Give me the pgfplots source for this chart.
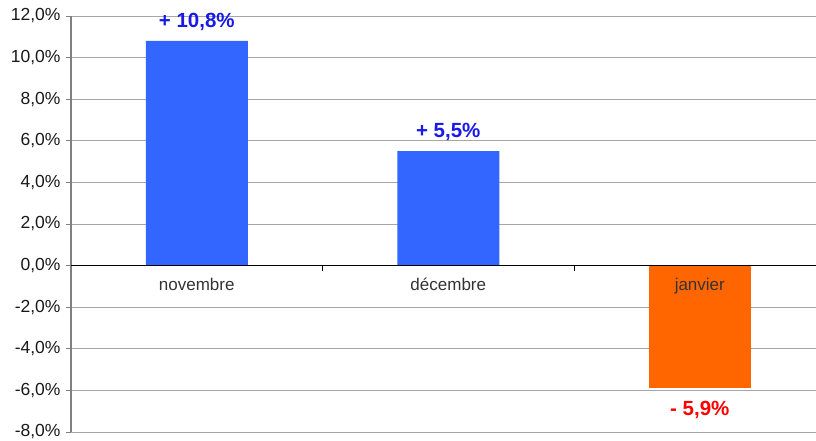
\documentclass[border=0pt]{standalone}
\usepackage{pgfplots}
\pgfplotsset{compat=1.18}
\usepackage{fontspec}
\setmainfont{Liberation Sans}
\definecolor{barblue}{HTML}{3366FF}
\definecolor{barorange}{HTML}{FF6600}
\definecolor{lblblue}{HTML}{1A1AE6}
\definecolor{lblred}{HTML}{FF0000}
\definecolor{gridgray}{HTML}{A6A6A6}
\definecolor{axgray}{HTML}{808080}
\pgfplotsset{
  common/.style={
    at={(0,0)}, anchor=south west,
    scale only axis, width=745pt, height=416pt,
    xmin=-0.5, xmax=2.462,
    ymin=-8, ymax=12,
    clip=false,
  }
}
\begin{document}
\begin{tikzpicture}[x=1pt,y=1pt]
\useasboundingbox (-71,-8) rectangle (745,432);
\begin{axis}[
  common,
  axis x line=none, axis y line=left,
  axis line style={-},
  y axis line style={axgray, line width=1.6pt},
  ytick={-8,-6,...,12},
  yticklabels={{-8,0\%},{-6,0\%},{-4,0\%},{-2,0\%},{0,0\%},{2,0\%},{4,0\%},{6,0\%},{8,0\%},{10,0\%},{12,0\%}},
  ymajorgrids,
  major grid style={gridgray, line width=0.9pt},
  ytick style={axgray, line width=0.9pt},
  tick align=outside,
  major tick length=5pt,
  yticklabel style={font=\fontsize{17.5}{20}\selectfont, text=black!90, xshift=-2pt},
  ybar, bar width=102pt,
  point meta=explicit symbolic,
]
\addplot[fill=barblue, draw=none, bar shift=0pt,
  nodes near coords, every node near coord/.append style={font=\fontsize{20.5}{23}\bfseries, text=lblblue, anchor=south, yshift=7pt}]
  coordinates {(0,10.8) [{+ 10,8\%}] (1,5.5) [{+ 5,5\%}]};
\addplot[fill=barorange, draw=none, bar shift=0pt,
  nodes near coords, every node near coord/.append style={font=\fontsize{20.5}{23}\bfseries, text=lblred, anchor=north, yshift=-9pt}]
  coordinates {(2,-5.9) [{- 5,9\%}]};
\end{axis}
\begin{axis}[
  common,
  axis x line=middle, axis y line=none,
  axis line style={-},
  x axis line style={black, line width=0.9pt},
  ytick=\empty,
  tick align=outside,
  xtick={0,1,2},
  xticklabels={novembre,décembre,janvier},
  major x tick style={draw=none},
  minor xtick={0.5,1.5},
  minor x tick style={black, line width=0.9pt},
  minor tick length=5pt,
  xticklabel style={font=\fontsize{17}{20}\selectfont, text=black!80, yshift=-5pt},
]
\end{axis}
\end{tikzpicture}
\end{document}
